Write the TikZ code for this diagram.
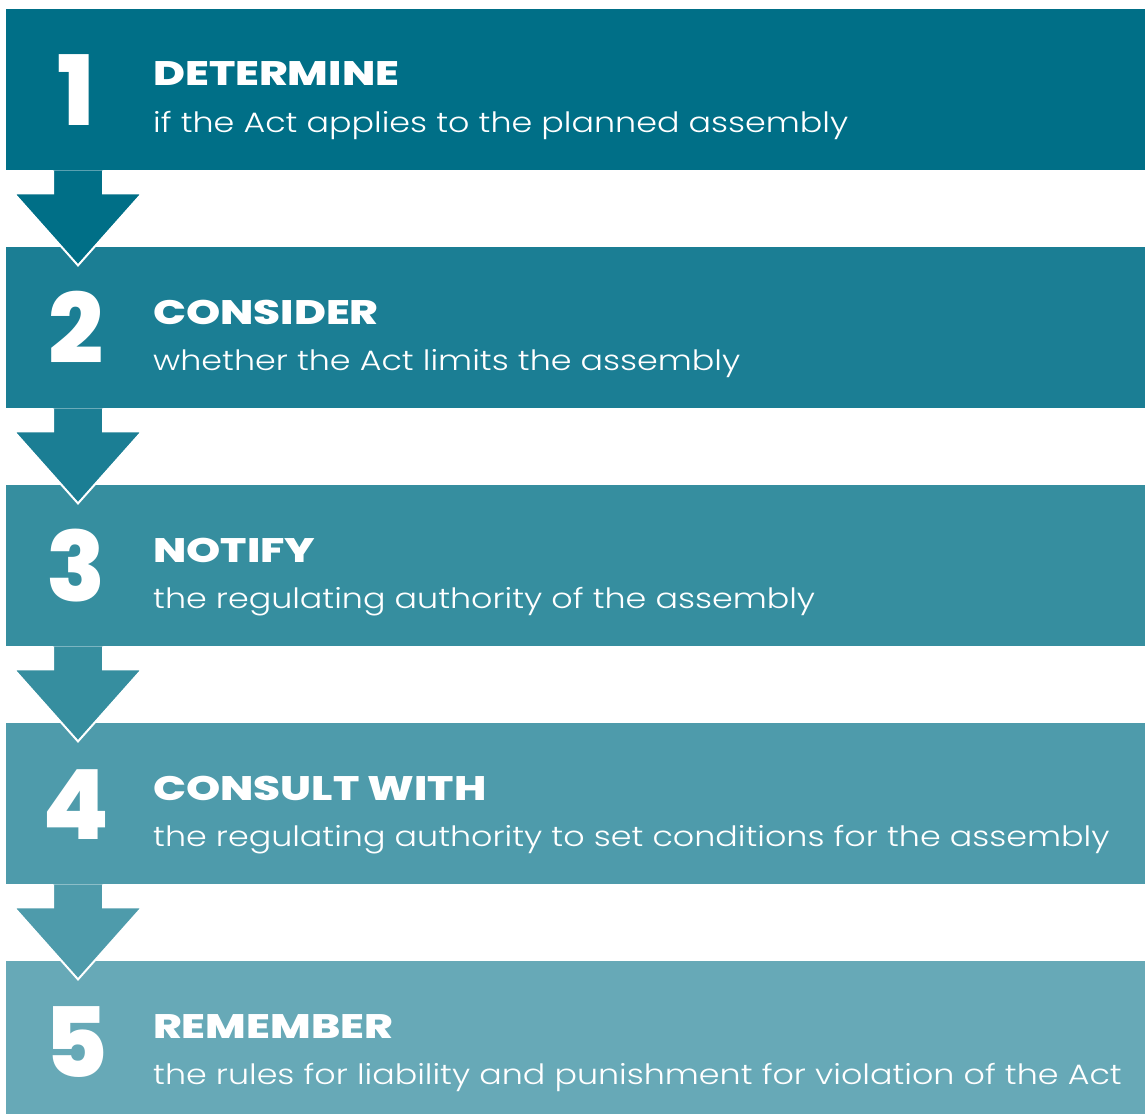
\documentclass[tikz,border=0pt]{standalone}
\usepackage{fontspec}
\setmainfont{Poppins Light}[BoldFont={Poppins ExtraBold}]
\newfontfamily\headfont{Poppins ExtraBold}[FakeStretch=1.28]
\newfontfamily\subfont{Poppins Light}[FakeStretch=1.19]
\usepackage{tikz}
\usetikzlibrary{positioning,calc}
\usepackage{xcolor}
\definecolor{step1}{HTML}{006F87}
\definecolor{step2}{HTML}{1B7E94}
\definecolor{step3}{HTML}{368E9F}
\definecolor{step4}{HTML}{4E9BAB}
\definecolor{step5}{HTML}{67A9B7}
\tikzset{
  band/.style={rectangle, anchor=north west, inner sep=0pt, minimum width=1139pt, minimum height=161pt},
  digit/.style={anchor=base, inner sep=0pt, text=white, font=\fontsize{97}{97}\selectfont\bfseries},
  headline/.style={anchor=base west, inner sep=0pt, text=white, font=\fontsize{34}{34}\headfont},
  subline/.style={anchor=base west, inner sep=0pt, text=white, font=\fontsize{28}{28}\subfont}
}

\begin{document}
\begin{tikzpicture}[x=1pt, y=-1pt]
\useasboundingbox (0,0) rectangle (1145,1113);

\foreach \i/\head/\sub in {1/DETERMINE/{if the Act applies to the planned assembly},
  2/CONSIDER/{whether the Act limits the assembly},
  3/NOTIFY/{the regulating authority of the assembly},
  4/CONSULT WITH/{the regulating authority to set conditions for the assembly},
  5/REMEMBER/{the rules for liability and punishment for violation of the Act}}
{
  \node[band, fill=step\i] (band\i) at (6, {9+238*(\i-1)}) {};
  \node[digit] (num\i) at ($(band\i.north west)+(70,116)$) {\i};
  \node[headline] (head\i) at ($(band\i.north west)+(147,77)$) {\head};
  \node[subline] (sub\i) at ($(band\i.north west)+(147,123)$) {\sub};
}

% block arrows from one band to the next
\foreach \i in {1,2,3,4}
{
  \coordinate (foot\i) at ($(band\i.south west)+(47,0)$);
  \fill[step\i] (foot\i) -- ++(0,23) -- ++(-39,0) -- ++(64,72) -- ++(64,-72) -- ++(-39,0) -- ++(0,-23) -- cycle;
  \draw[white, line width=2pt, line join=miter] (foot\i) -- ++(0,23) -- ++(-39,0) -- ++(64,72) -- ++(64,-72) -- ++(-39,0) -- ++(0,-23);
}
\end{tikzpicture}
\end{document}
